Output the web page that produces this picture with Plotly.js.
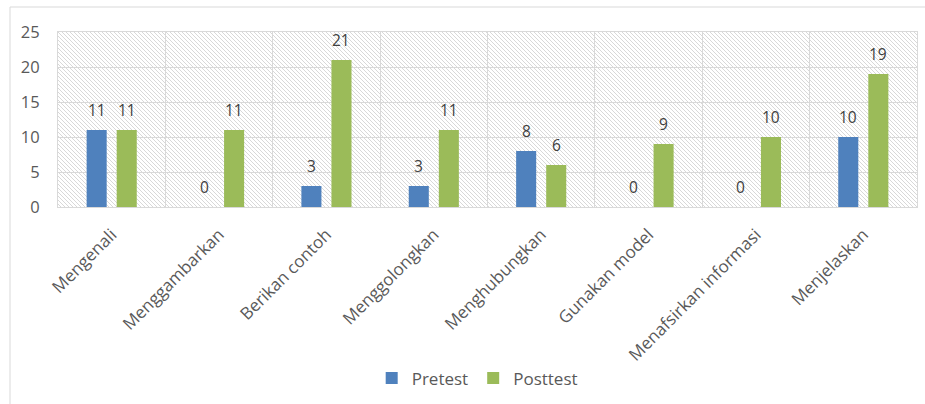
<!DOCTYPE html>
<html>
<head>
<meta charset="utf-8">
<script src="https://cdn.plot.ly/plotly-3.0.1.min.js"></script>
<style>html,body{margin:0;padding:0;background:#fff;}#chart{width:925px;height:404px;}</style>
</head>
<body>
<div id="chart"></div>
<script>
const categories = ["Mengenali","Menggambarkan","Berikan contoh","Menggolongkan","Menghubungkan","Gunakan model","Menafsirkan informasi","Menjelaskan"];
const pretest = [11, 0, 3, 3, 8, 0, 0, 10];
const posttest = [11, 11, 21, 11, 6, 9, 10, 19];

const W = 925, H = 404;
const M = {l: 58, r: 8, t: 32, b: 197};
const pw = W - M.l - M.r, ph = H - M.t - M.b;

const svg = `<svg xmlns="http://www.w3.org/2000/svg" width="${pw}" height="${ph}" viewBox="0 0 ${pw} ${ph}"><defs><pattern id="h" patternUnits="userSpaceOnUse" width="4" height="4"><path d="M-1,-1 L5,5 M-1,3 L1,5 M3,-1 L5,1" stroke="#d4d4d4" stroke-width="0.9"/></pattern></defs><rect width="${pw}" height="${ph}" fill="#ffffff"/><rect width="${pw}" height="${ph}" fill="url(#h)"/></svg>`;
const img = "data:image/svg+xml;base64," + btoa(svg);

const font = "'Open Sans', sans-serif";
const traces = [
  {type: "bar", name: "Pretest", x: categories, y: pretest, marker: {color: "#4f81bd"}, hoverinfo: "x+y"},
  {type: "bar", name: "Posttest", x: categories, y: posttest, marker: {color: "#9bbb59"}, hoverinfo: "x+y"}
];

const labelAnn = (vals, shift) => vals.map((v, i) => ({
  x: categories[i], y: v, xref: "x", yref: "y", text: String(v), showarrow: false,
  xshift: shift, yshift: 20, xanchor: "center", yanchor: "middle",
  font: {family: font, size: 15.5, color: "#404040"}
}));

const layout = {
  width: W, height: H,
  margin: M,
  paper_bgcolor: "#ffffff",
  plot_bgcolor: "rgba(0,0,0,0)",
  font: {family: font, size: 16, color: "#595959"},
  barmode: "group",
  bargap: 0.44,
  bargroupgap: 0.333,
  showlegend: true,
  legend: {orientation: "h", x: 0.488, xanchor: "center", y: -0.98, yanchor: "middle",
           font: {family: font, size: 17, color: "#595959"}, traceorder: "normal",
           itemwidth: 30},
  xaxis: {
    type: "category", tickangle: -45, tickson: "boundaries",
    showgrid: true, gridcolor: "#d9d9d9", gridwidth: 1,
    showline: true, linecolor: "#d9d9d9", mirror: true,
    ticks: "", ticklabelstandoff: 10,
    tickfont: {family: font, size: 17, color: "#595959"},
    automargin: false
  },
  yaxis: {
    range: [0, 25], dtick: 5, tick0: 0,
    showgrid: true, gridcolor: "#d9d9d9", gridwidth: 1,
    showline: true, linecolor: "#d9d9d9", mirror: true,
    zeroline: false, ticks: "", ticklabelstandoff: 14,
    tickfont: {family: font, size: 16.5, color: "#595959"},
    automargin: false
  },
  annotations: labelAnn(pretest, -15).concat(labelAnn(posttest, 15)),
  images: [{source: img, xref: "paper", yref: "paper", x: 0, y: 1, sizex: 1, sizey: 1,
            xanchor: "left", yanchor: "top", sizing: "stretch", layer: "below"}],
  shapes: [
    {type: "line", xref: "paper", yref: "paper", x0: (10 - M.l) / pw, x1: (10 - M.l) / pw,
     y0: (M.t + ph - 7) / ph, y1: -2, line: {color: "#d9d9d9", width: 1}},
    {type: "line", xref: "paper", yref: "paper", x0: (10 - M.l) / pw, x1: 1.2,
     y0: (M.t + ph - 7) / ph, y1: (M.t + ph - 7) / ph, line: {color: "#d9d9d9", width: 1}}
  ]
};

Plotly.newPlot("chart", traces, layout, {displayModeBar: false, staticPlot: true});
</script>
</body>
</html>
